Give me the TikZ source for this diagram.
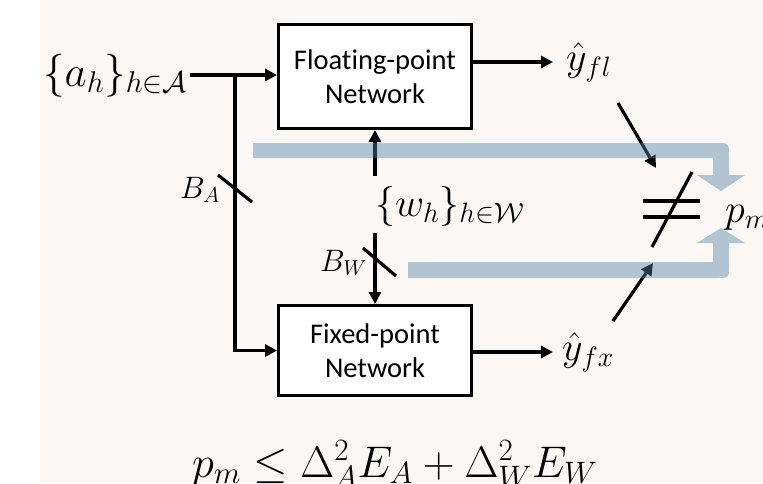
\RequirePackage{fix-cm}
\documentclass[tikz,border=0pt]{standalone}
\usepackage{fontspec}
\newfontfamily\carlito[RawFeature=-liga]{Carlito}
\usetikzlibrary{arrows.meta}
\definecolor{bg}{RGB}{250,247,244}
\definecolor{bandc}{RGB}{81,130,165}
\begin{document}
\begin{tikzpicture}[x=1pt,y=-1pt,
  box/.style={draw, line width=3pt, fill=white, minimum width=193pt, align=center, inner sep=0pt,
    font=\carlito\fontsize{28.5}{34}\selectfont},
  mlab/.style={inner sep=0pt, font=\fontsize{40}{48}\selectfont},
  blab/.style={inner sep=0pt, font=\fontsize{31}{37}\selectfont},
  ln/.style={line width=3.2pt},
  arr/.style={ln, -{Triangle[length=12pt,width=12pt]}},
  band/.style={fill=bandc, fill opacity=0.43}]
\useasboundingbox (0,0) rectangle (763,483);
\fill[bg] (40,0) rectangle (763,483);

% boxes
\node[box, minimum height=104pt] (fl) at (375,76.5) {Floating-point\\Network};
\node[box, minimum height=90pt] (fx) at (375,350.5) {Fixed-point\\Network};

% labels
\node[mlab, font=\fontsize{43}{50}\selectfont, anchor=base west] (a) at (43,86) {$\{a_h\}_{h\in\mathcal{A}}$};
\node[mlab, anchor=west, inner xsep=13pt] (yfl) at (553,62) {$\hat y_{fl}$};
\node[mlab, anchor=west, inner xsep=9pt] (yfx) at (553,352) {$\hat y_{fx}$};
\node[mlab, anchor=base west] (w) at (375,216) {$\{w_h\}_{h\in\mathcal{W}}$};
\node[blab, anchor=base west] (BA) at (180,198) {$B_A$};
\node[blab, anchor=base west] (BW) at (320,271) {$B_W$};
\node[mlab, anchor=base west] (pm) at (725,222) {$p_m$};
\node[mlab, font=\fontsize{44.3}{52}\selectfont, anchor=base west] (eq) at (192,477)
  {$p_m \le \Delta_A^2 E_A + \Delta_W^2 E_W$};

% coordinates
\coordinate (ain) at (190,75);
\coordinate (br) at (235,75);
\coordinate (wu) at (375,176);
\coordinate (wd) at (375,233);
\coordinate (d1s) at (618,103);
\coordinate (d1e) at (656,168);
\coordinate (d2s) at (613,321);
\coordinate (d2e) at (653,263);

% connectors
\draw[arr] (ain) -- (ain -| fl.west);
\draw[arr] (br) |- (fx.west);
\draw[arr] (wu) -- (fl.south);
\draw[arr] (wd) -- (fx.north);
\draw[arr] (fl.east |- yfl.west) -- (yfl.west);
\draw[arr] (fx.east |- yfx.west) -- (yfx.west);
\draw[arr] (d1s) -- (d1e);
\draw[arr] (d2s) -- (d2e);

% bit-width ticks
\draw[ln] (218,175) -- (252,202);
\draw[ln] (363,248) -- (396,276);

% not-equal sign
\draw[ln] (643,201) -- (700,201);
\draw[ln] (643,217) -- (700,217);
\draw[ln] (692,172) -- (652,247);

% bands
\fill[band] (253,143) -- (716,143) .. controls (729,143) .. (729,156) -- (729,175)
  -- (745,175) -- (721,191) -- (697,175) -- (713,175) -- (713,158) -- (253,158) -- cycle;
\fill[band] (408,262) -- (713,262) -- (713,243) -- (697,243) -- (721,228) -- (745,243)
  -- (729,243) -- (729,265) .. controls (729,278) .. (716,278) -- (408,278) -- cycle;
\end{tikzpicture}
\end{document}
